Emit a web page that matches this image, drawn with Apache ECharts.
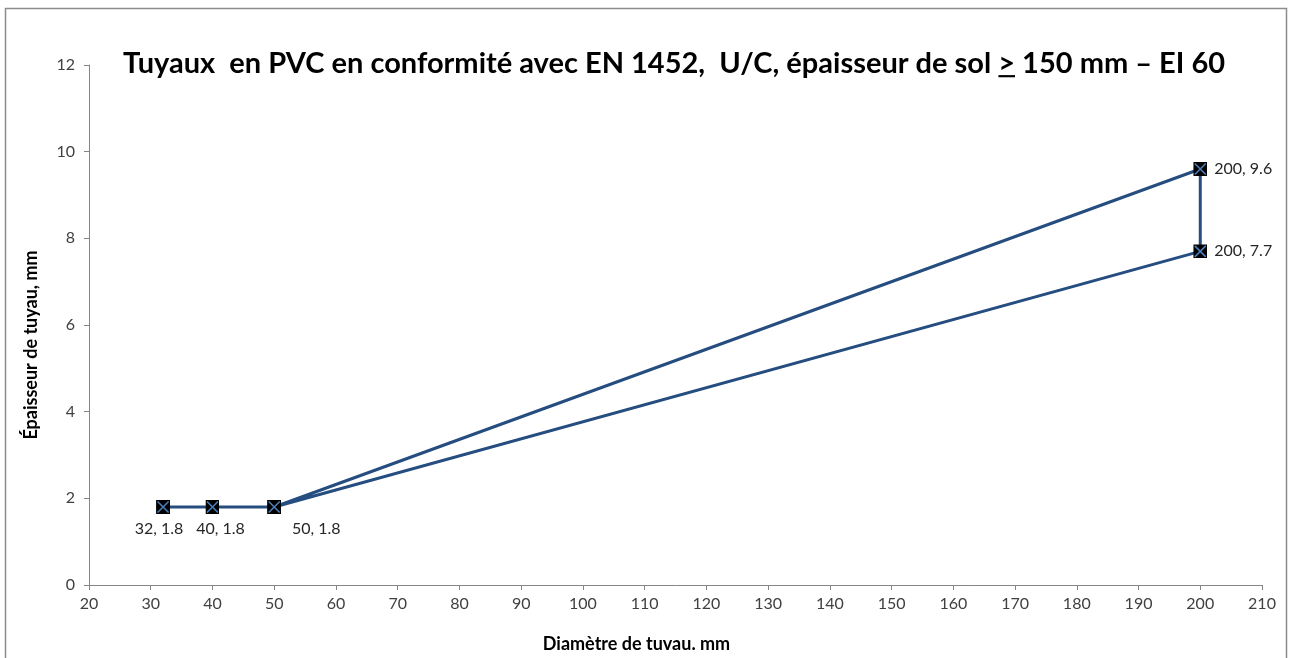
<!DOCTYPE html>
<html>
<head>
<meta charset="utf-8">
<script src="https://cdn.jsdelivr.net/npm/echarts@6/dist/echarts.min.js"></script>
<style>
  html, body { margin:0; padding:0; background:#fff; }
  #chart { width:1291px; height:658px; }
</style>
</head>
<body>
<div id="chart"></div>
<script>
// données
const diameters = [32, 40, 50, 200, 200, 50];
const thicknesses = [1.8, 1.8, 1.8, 9.6, 7.7, 1.8];
const labelShown = [true, true, true, true, true, false];
const titleText = 'Tuyaux  en PVC en conformité avec EN 1452,  U/C, épaisseur de sol {u|>} 150 mm – EI 60';
const xName = 'Diamètre de tuvau. mm';
const yName = 'Épaisseur de tuyau, mm';

const FONT = 'Lato, "Liberation Sans", sans-serif';
const lineColor = '#254d80';

// marqueur : carré noir avec croix bleue
const markerSvg = "<svg xmlns='http://www.w3.org/2000/svg' width='14' height='14'>" +
  "<rect width='14' height='14' fill='#000'/>" +
  "<path d='M1.5 1.5L12.5 12.5M12.5 1.5L1.5 12.5' stroke='#4a7ebb' stroke-width='1.6'/></svg>";
const markerSymbol = 'image://data:image/svg+xml;charset=utf-8,' + encodeURIComponent(markerSvg);

// soulignement du signe ">" (image de fond)
const underlineSvg = "<svg xmlns='http://www.w3.org/2000/svg' width='20' height='40' preserveAspectRatio='none'>" +
  "<rect x='0' y='36' width='20' height='3' fill='#000'/></svg>";
const underlineImg = 'data:image/svg+xml;charset=utf-8,' + encodeURIComponent(underlineSvg);

// position des étiquettes
const labelPos = [
  { position: 'bottom', offset: [-4, 2] },
  { position: 'bottom', offset: [8, 2] },
  { position: 'bottom', offset: [42, 2] },
  { position: 'right', offset: [2, 0] },
  { position: 'right', offset: [2, 0] },
  { position: 'bottom', offset: [0, 0] }
];

const data = diameters.map((d, i) => ({
  value: [d, thicknesses[i]],
  label: Object.assign({ show: labelShown[i] }, labelPos[i])
}));

const chart = echarts.init(document.getElementById('chart'), null, { renderer: 'canvas' });
chart.setOption({
  animation: false,
  backgroundColor: '#fff',
  graphic: [{
    type: 'rect',
    shape: { x: 5.5, y: 8.5, width: 1281, height: 660 },
    style: { fill: 'none', stroke: '#8c8c8c', lineWidth: 1.5 },
    silent: true
  }],
  title: {
    text: titleText,
    left: 118,
    top: 44,
    textStyle: {
      fontFamily: FONT, fontWeight: 'bold', fontSize: 29, color: '#000',
      rich: {
        u: { fontFamily: FONT, fontWeight: 'bold', fontSize: 29, color: '#000',
             backgroundColor: { image: underlineImg } }
      }
    }
  },
  grid: { left: 89, right: 29, top: 65, bottom: 71, containLabel: false },
  xAxis: {
    type: 'value',
    min: 20, max: 210, interval: 10,
    name: xName,
    nameLocation: 'middle',
    nameGap: 50,
    nameTextStyle: { fontFamily: FONT, fontWeight: 'bold', fontSize: 18, color: '#000', padding: [0, 78, 0, 0] },
    axisLine: { show: true, lineStyle: { color: '#868686', width: 1 } },
    axisTick: { show: true, length: 5, lineStyle: { color: '#868686' } },
    axisLabel: { fontFamily: FONT, fontSize: 16, color: '#404040', margin: 11 },
    splitLine: { show: false }
  },
  yAxis: {
    type: 'value',
    min: 0, max: 12, interval: 2,
    name: yName,
    nameLocation: 'middle',
    nameGap: 49,
    nameTextStyle: { fontFamily: FONT, fontWeight: 'bold', fontSize: 18, color: '#000', padding: [0, 40, 0, 0] },
    axisLine: { show: true, lineStyle: { color: '#868686', width: 1 } },
    axisTick: { show: true, length: 5, lineStyle: { color: '#868686' } },
    axisLabel: { fontFamily: FONT, fontSize: 16, color: '#404040', margin: 14 },
    splitLine: { show: false }
  },
  series: [{
    type: 'line',
    data: data,
    symbol: markerSymbol,
    symbolSize: 14,
    showAllSymbol: true,
    lineStyle: { color: lineColor, width: 3 },
    itemStyle: { color: lineColor },
    label: {
      fontFamily: FONT, fontSize: 16, color: '#262626',
      formatter: p => p.value[0] + ', ' + p.value[1]
    },
    z: 3
  }]
});
</script>
</body>
</html>
